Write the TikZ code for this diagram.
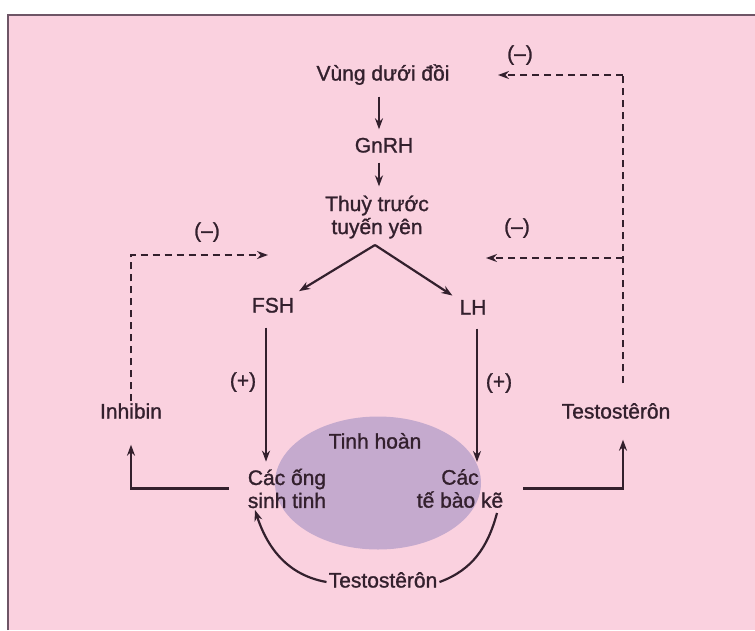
\documentclass[tikz,border=0pt]{standalone}
\usepackage{fontspec}
\setmainfont{Liberation Sans}
\newfontfamily\lblfont[FakeBold=1.2]{Liberation Sans}
\usetikzlibrary{arrows.meta,shapes.geometric}
\definecolor{bgpink}{HTML}{FAD1DF}
\definecolor{testis}{HTML}{C5AACE}
\definecolor{ink}{HTML}{33202D}
\definecolor{frame}{HTML}{6E5566}
\begin{document}
\begin{tikzpicture}[x=1pt,y=-1pt,
  lbl/.style={font=\lblfont\fontsize{21}{23}\selectfont, text=ink, inner sep=2pt, align=center},
  one/.style={lbl, text height=15pt, text depth=4pt},
  conn/.style={draw=ink, line width=2.2pt, -{Stealth[length=11pt,width=8pt]}},
  plain/.style={draw=ink, line width=2.2pt},
  fb/.style={draw=ink, line width=2.2pt, dash pattern=on 7pt off 5pt, -{Stealth[length=11pt,width=8pt]}},
  fbline/.style={draw=ink, line width=2.2pt, dash pattern=on 7pt off 5pt}]
\useasboundingbox (0,0) rectangle (755,630);
\fill[white] (0,0) rectangle (755,630);
\fill[bgpink] (8,15) rectangle (755,630);
\draw[frame, line width=1.2pt] (8,630) -- (8,15) -- (755,15);
% testis ellipse
\node[ellipse, fill=testis, minimum width=206pt, minimum height=133pt, inner sep=0pt] (testis) at (378,483) {};
\node[one] (vung) at (383,75) {Vùng dưới đồi};
\node[one] (gnrh) at (384,147) {GnRH};
\node[lbl] (thuy) at (377,217) {Thuỳ trước\\tuyến yên};
\node[one] (fsh) at (273,307) {FSH};
\node[one] (lh) at (473,309) {LH};
\node[one] (plusL) at (243,382) {(+)};
\node[one] (plusR) at (499,383) {(+)};
\node[one] (inhibin) at (131,413) {Inhibin};
\node[one] (testR) at (616,413) {Testostêrôn};
\node[one] (tinhhoan) at (375,443) {Tinh hoàn};
\node[lbl] (ong) at (287,488.5) {Các ống\\sinh tinh};
\node[lbl] (tebao) at (460,488.5) {Các\\tế bào kẽ};
\node[one] (testB) at (383,582) {Testostêrôn};
\node[one] (mInh) at (207,232) {(–)};
\node[one] (mTop) at (520,55) {(–)};
\node[one] (mMid) at (517,228) {(–)};
% coordinates
\coordinate (apex) at (375,245);
\coordinate (tr) at (623,75);
\coordinate (tm) at (623,258);
\coordinate (vt) at (498,75);
\coordinate (pt) at (486,258);
\coordinate (it) at (268,255);
\coordinate (sa) at (255,510);
\coordinate (sb) at (497,513);
% main chain
\draw[conn, shorten <=10pt, shorten >=6pt] ([xshift=-4pt]vung.south) -- ([xshift=-4pt]vung.south |- gnrh.north);
\draw[conn, shorten <=4pt, shorten >=7pt] ([xshift=-5pt]gnrh.south) -- ([xshift=-5pt]gnrh.south |- thuy.north);
\draw[conn, shorten >=8pt] (apex) -- (fsh);
\draw[conn, shorten >=6pt] (apex) -- (lh);
\draw[conn, shorten <=9pt, shorten >=5pt] ([xshift=-7pt]fsh.south) -- ([xshift=-7pt]fsh.south |- ong.north);
\draw[conn, shorten <=8pt, shorten >=5pt] ([xshift=4pt]lh.south) -- ([xshift=4pt]lh.south |- tebao.north);
% outputs of testis
\draw[conn, shorten <=17pt, shorten >=20pt] (ong.west) -| (inhibin.south);
\draw[conn, shorten <=18pt, shorten >=15pt] (tebao.east) -| (testR.south -| tr);
% feedback
\draw[fb] (inhibin.north) |- (it);
\draw[fbline, shorten <=18pt] (testR.north -| tr) -- (tr);
\draw[fb] (tr) -- (vt);
\draw[fb] (tm) -- (pt);
% local testosterone
\draw[conn] (testB.west) to[out=170, in=-72] (sa);
\draw[plain] (sb) to[out=-105, in=20] (testB.east);
\end{tikzpicture}
\end{document}
